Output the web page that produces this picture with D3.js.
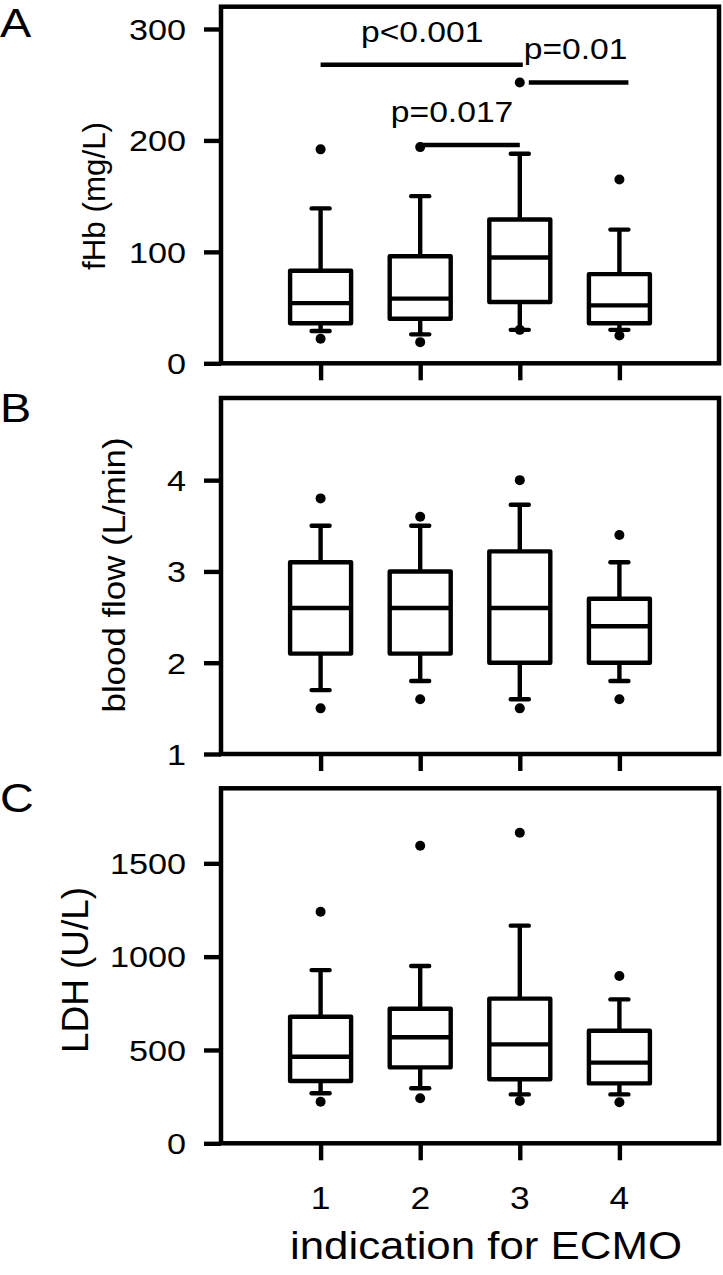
<!DOCTYPE html>
<html>
<head>
<meta charset="utf-8">
<script src="https://cdn.jsdelivr.net/npm/d3@7"></script>
<style>
  html, body { margin: 0; padding: 0; background: #fff; }
  svg { display: block; font-family: "Liberation Sans", Arial, sans-serif; }
</style>
</head>
<body>
<svg id="chart" width="723" height="1275"></svg>
<script>
// ---------- data ----------
const categories = [1, 2, 3, 4];
const xTickLabels = ["1", "2", "3", "4"];
const xTitle = "indication for ECMO";

// Panel A: fHb (mg/L)
const fhbTicks = [0, 100, 200, 300];
const fhbQ1 = [36, 40, 55, 36];
const fhbMedian = [54, 58, 95, 52];
const fhbQ3 = [83, 96, 129, 80];
const fhbLow = [29, 26, 30, 30];
const fhbHigh = [139, 150, 188, 120];
const fhbOutliers = [[192, 22], [194, 19], [252, 30], [165, 25]];
const fhbBrackets = [
  { from: 1, to: 3, value: 268, label: "p<0.001", labelAt: 2.02 },
  { from: 2, to: 3, value: 196, label: "p=0.017", labelAt: 2.32 },
  { from: 3, to: 4, value: 252, label: "p=0.01", labelAt: 3.56 }
];

// Panel B: blood flow (L/min)
const flowTicks = [1, 2, 3, 4];
const flowQ1 = [2.1, 2.1, 2.0, 2.0];
const flowMedian = [2.6, 2.6, 2.6, 2.4];
const flowQ3 = [3.1, 3.0, 3.22, 2.7];
const flowLow = [1.7, 1.8, 1.6, 1.8];
const flowHigh = [3.5, 3.5, 3.73, 3.1];
const flowOutliers = [[3.8, 1.5], [3.6, 1.6], [4.0, 1.5], [3.4, 1.6]];

// Panel C: LDH (U/L)
const ldhTicks = [0, 500, 1000, 1500];
const ldhQ1 = [334, 407, 343, 321];
const ldhMedian = [464, 568, 530, 432];
const ldhQ3 = [678, 721, 775, 603];
const ldhLow = [268, 295, 262, 262];
const ldhHigh = [928, 950, 1166, 771];
const ldhOutliers = [[1241, 223], [1594, 241], [1664, 227], [896, 220]];

// ---------- drawing ----------
const svg = d3.select("#chart");
const SX = 1.14; // horizontal stretch of the original lettering
const LW = 4.4;

const x = d3.scaleLinear().domain([0, 5]).range([221, 719]);

function stretchedText(g, str, px, py, size, anchor) {
  return g.append("text")
    .attr("transform", `translate(${px},${py}) scale(${SX},1)`)
    .attr("text-anchor", anchor)
    .attr("font-size", size)
    .attr("fill", "#000")
    .text(str);
}

function panel(cfg) {
  const g = svg.append("g");
  const y = d3.scaleLinear().domain(cfg.domain).range([cfg.bottom, cfg.top]);

  // boxes
  categories.forEach((c, i) => {
    const cx = x(c);
    const hw = 30.5, cw = 9;
    // whiskers
    g.append("line").attr("x1", cx).attr("x2", cx)
      .attr("y1", y(cfg.q3[i])).attr("y2", y(cfg.high[i]))
      .attr("stroke", "#000").attr("stroke-width", LW);
    g.append("line").attr("x1", cx).attr("x2", cx)
      .attr("y1", y(cfg.q1[i])).attr("y2", y(cfg.low[i]))
      .attr("stroke", "#000").attr("stroke-width", LW);
    [cfg.high[i], cfg.low[i]].forEach(v => {
      g.append("line").attr("x1", cx - cw).attr("x2", cx + cw)
        .attr("y1", y(v)).attr("y2", y(v))
        .attr("stroke", "#000").attr("stroke-width", LW)
        .attr("stroke-linecap", "round");
    });
    // box
    g.append("rect")
      .attr("x", cx - hw).attr("width", 2 * hw)
      .attr("y", y(cfg.q3[i])).attr("height", y(cfg.q1[i]) - y(cfg.q3[i]))
      .attr("fill", "#fff").attr("stroke", "#000").attr("stroke-width", LW)
      .attr("stroke-linejoin", "round");
    g.append("line").attr("x1", cx - hw).attr("x2", cx + hw)
      .attr("y1", y(cfg.median[i])).attr("y2", y(cfg.median[i]))
      .attr("stroke", "#000").attr("stroke-width", LW);
    // outliers
    cfg.outliers[i].forEach(v => {
      g.append("circle").attr("cx", cx).attr("cy", y(v)).attr("r", 5).attr("fill", "#000");
    });
  });

  // frame
  g.append("rect")
    .attr("x", x(0)).attr("y", cfg.top)
    .attr("width", x(5) - x(0)).attr("height", cfg.bottom - cfg.top)
    .attr("fill", "none").attr("stroke", "#000").attr("stroke-width", 4.5);

  // y axis
  const ya = g.append("g").attr("transform", `translate(${x(0)},0)`)
    .call(d3.axisLeft(y).tickValues(cfg.ticks).tickSize(17).tickFormat(""));
  ya.select(".domain").remove();
  ya.selectAll(".tick line").attr("stroke", "#000").attr("stroke-width", LW);
  cfg.ticks.forEach(t => {
    stretchedText(g, String(t), 186, y(t) + 10.8, 30, "end");
  });

  // x axis ticks
  const xa = g.append("g").attr("transform", `translate(0,${cfg.bottom})`)
    .call(d3.axisBottom(x).tickValues(categories).tickSize(17).tickFormat(""));
  xa.select(".domain").remove();
  xa.selectAll(".tick line").attr("stroke", "#000").attr("stroke-width", LW);

  // panel letter
  g.append("text").attr("x", 0).attr("y", cfg.letterY)
    .attr("font-size", 41).attr("fill", "#000")
    .attr("transform", `scale(${SX},1)`)
    .text(cfg.letter);

  // y title
  g.append("text")
    .attr("transform", `translate(${cfg.titleX},${cfg.titleY}) rotate(-90)`)
    .attr("text-anchor", "middle")
    .attr("font-size", cfg.titleSize)
    .attr("textLength", cfg.titleLen)
    .attr("lengthAdjust", "spacingAndGlyphs")
    .attr("fill", "#000")
    .text(cfg.title);

  return { g, y };
}

const A = panel({
  domain: [0, 320], top: 6.7, bottom: 363.3, ticks: fhbTicks,
  q1: fhbQ1, median: fhbMedian, q3: fhbQ3, low: fhbLow, high: fhbHigh, outliers: fhbOutliers,
  letter: "A", letterY: 37.5, title: "fHb (mg/L)", titleX: 105, titleY: 196, titleSize: 31, titleLen: 148
});

// significance brackets
fhbBrackets.forEach((b, k) => {
  let x1 = x(b.from), x2 = x(b.to);
  if (k === 0) x2 += 3;
  if (k === 2) { x1 += 9; x2 += 9; }
  A.g.append("line").attr("x1", x1).attr("x2", x2)
    .attr("y1", A.y(b.value)).attr("y2", A.y(b.value))
    .attr("stroke", "#000").attr("stroke-width", 4.5);
  stretchedText(A.g, b.label, x(b.labelAt), A.y(b.value) - 23, 29.5, "middle");
});

panel({
  domain: [1, 4.9], top: 398, bottom: 754, ticks: flowTicks,
  q1: flowQ1, median: flowMedian, q3: flowQ3, low: flowLow, high: flowHigh, outliers: flowOutliers,
  letter: "B", letterY: 422, title: "blood flow (L/min)", titleX: 125, titleY: 575, titleSize: 32, titleLen: 275
});

const C = panel({
  domain: [0, 1902], top: 788.3, bottom: 1143.3, ticks: ldhTicks,
  q1: ldhQ1, median: ldhMedian, q3: ldhQ3, low: ldhLow, high: ldhHigh, outliers: ldhOutliers,
  letter: "C", letterY: 812, title: "LDH (U/L)", titleX: 88, titleY: 970, titleSize: 37, titleLen: 166
});

// x tick labels (bottom panel only)
categories.forEach((c, i) => {
  stretchedText(C.g, xTickLabels[i], x(c), 1209, 31, "middle");
});
// x title
C.g.append("text")
  .attr("x", 486).attr("y", 1259)
  .attr("text-anchor", "middle")
  .attr("font-size", 38)
  .attr("textLength", 392)
  .attr("lengthAdjust", "spacingAndGlyphs")
  .attr("fill", "#000")
  .text(xTitle);
</script>
</body>
</html>
